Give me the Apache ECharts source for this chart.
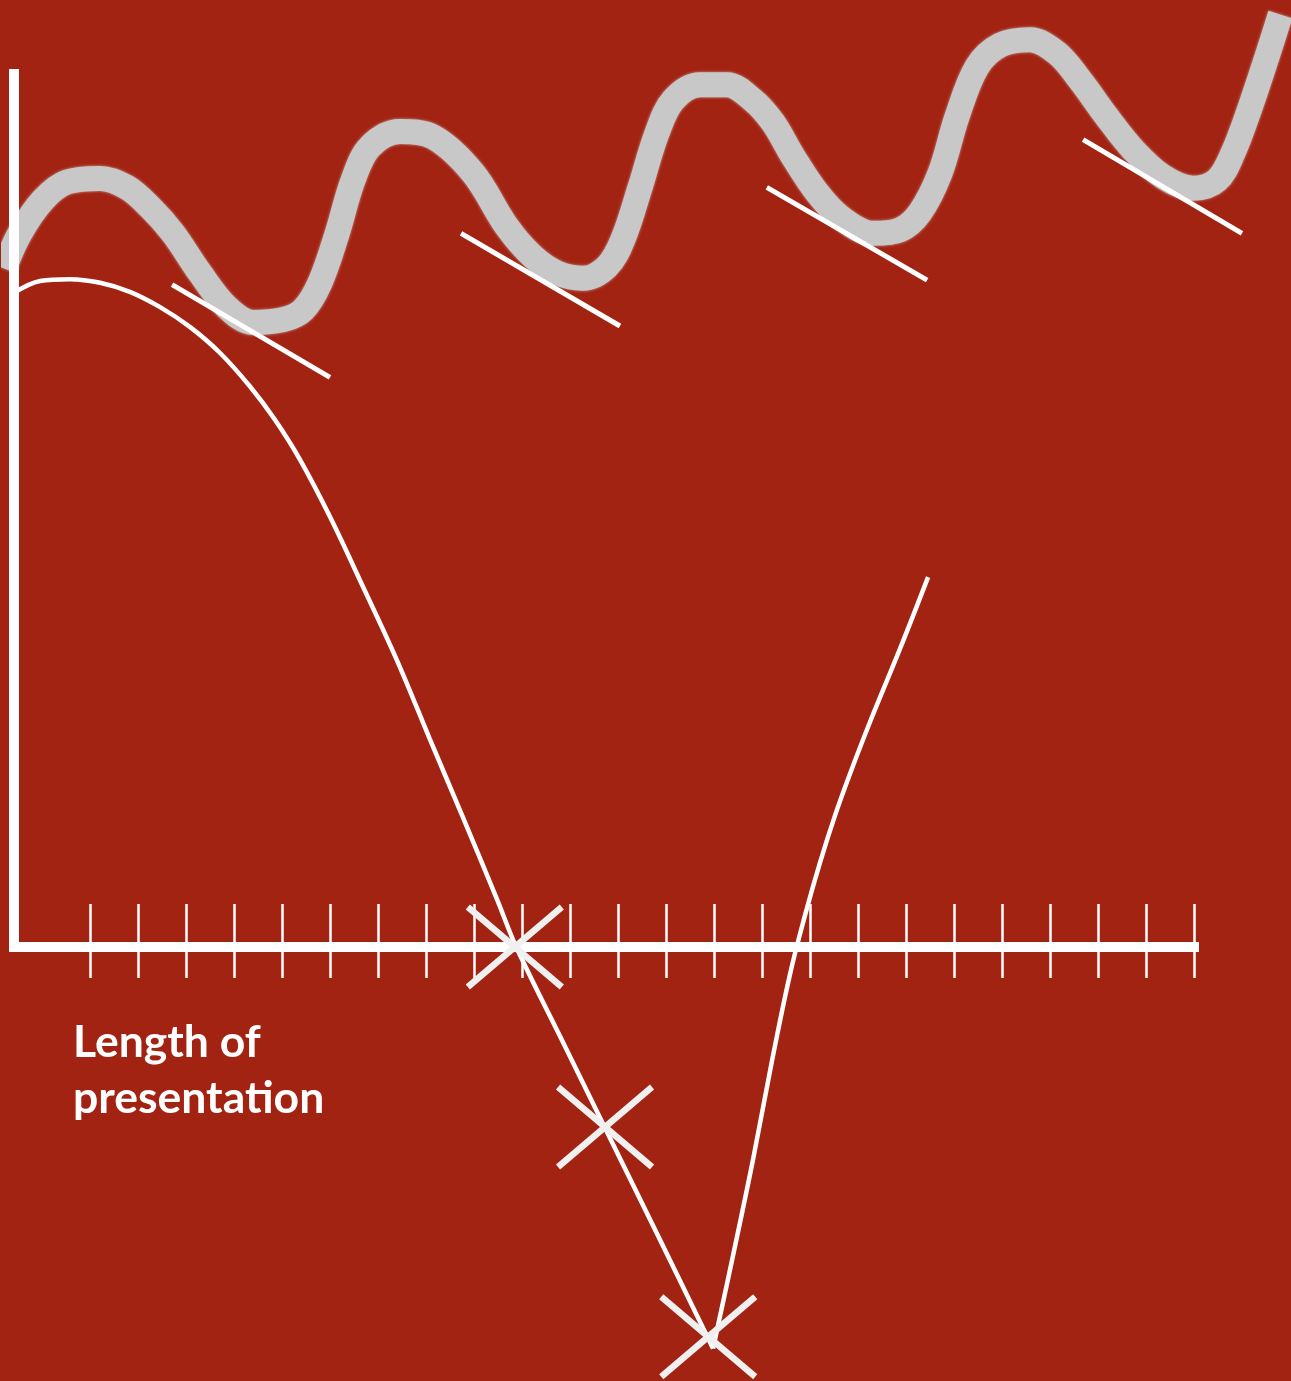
<!DOCTYPE html>
<html>
<head>
<meta charset="utf-8">
<script src="https://cdn.jsdelivr.net/npm/echarts@6/dist/echarts.min.js"></script>
<style>
  html, body { margin: 0; padding: 0; background: #a32312; }
  #chart { width: 1291px; height: 1381px; }
</style>
</head>
<body>
<div id="chart"></div>
<script>
// x: length of presentation (tick units), y: level (0 = axis)
const tickValues = [1, 2, 3, 4, 5, 6, 7, 8, 9, 10, 11, 12, 13, 14, 15, 16, 17, 18, 19, 20, 21, 22, 23, 24]

const interestWave = [
    [-0.79, 75.4], [-0.46, 79.3], [0.02, 83.0], [0.52, 85.0], [1.21, 85.4], [1.77, 84.4],
    [2.25, 82.2], [2.73, 79.3], [3.29, 74.9], [3.85, 71.1], [4.40, 69.4], [5.02, 69.7],
    [5.44, 70.8], [5.79, 73.8], [6.15, 79.3], [6.48, 85.2], [6.83, 88.9], [7.46, 90.6],
    [8.15, 90.0], [8.98, 86.0], [9.69, 80.0], [10.23, 76.7], [10.73, 74.9], [11.27, 74.3],
    [11.77, 75.6], [12.10, 78.6], [12.46, 84.4], [12.81, 90.4], [13.15, 94.1], [13.71, 95.8],
    [14.27, 95.8], [14.81, 94.1], [15.23, 91.6], [15.65, 87.8], [16.15, 83.8], [16.63, 81.1],
    [17.31, 79.3], [17.88, 79.7], [18.29, 81.6], [18.71, 86.0], [19.06, 92.2], [19.48, 97.8],
    [19.96, 100.2], [20.58, 100.8], [21.15, 99.3], [21.63, 96.3], [22.19, 92.2], [22.73, 88.6],
    [23.35, 85.6], [23.98, 84.3], [24.48, 85.2], [24.81, 88.2], [25.17, 93.3], [25.52, 98.9],
    [25.80, 103.6]
]

const attentionDrop = [
    [-0.58, 72.7], [-0.04, 74.0], [0.58, 74.2], [1.21, 73.8], [1.83, 72.8], [2.46, 71.1],
    [3.08, 68.9], [3.71, 66.0], [4.33, 62.3], [4.85, 58.6], [5.38, 54.1], [6.00, 47.8],
    [6.69, 40.0], [7.40, 31.8], [8.08, 23.1], [8.77, 14.4], [9.48, 5.3], [9.88, 0],
    [10.79, -9.9], [11.73, -20.1], [12.77, -31.4], [13.98, -44.6]
]

const attentionRecovery = [
    [13.98, -44.6], [14.40, -34.2], [14.81, -23.7], [15.21, -12.6], [15.58, -3.1], [15.90, 3.6],
    [16.21, 9.4], [16.52, 14.6], [16.83, 19.2], [17.25, 25.0], [17.88, 33.2], [18.46, 41.1]
]

const tangentSegments = [
    [[2.71, 73.6], [6.00, 63.3]],
    [[8.73, 79.3], [12.04, 69.0]],
    [[15.10, 84.4], [18.44, 74.1]],
    [[21.69, 89.7], [25.00, 79.3]]
]

const crossMarks = [[9.85, 0], [11.73, -20.0], [13.88, -43.3]]

const axisLabelText = 'Length of\npresentation'

const WHITE = '#ffffff'
const X_MIN = -7 / 12
const myChart = echarts.init(document.getElementById('chart'))

const tickAxis = (inside, length, showLine) => ({
    type: 'value',
    gridIndex: 0,
    min: X_MIN,
    max: 24,
    position: 'bottom',
    offset: 0,
    axisLine: {
        show: showLine,
        onZero: false,
        lineStyle: { color: WHITE, width: 10, cap: 'square' }
    },
    axisTick: {
        show: true,
        inside: inside,
        length: length,
        customValues: tickValues,
        lineStyle: { color: WHITE, width: 2.5 }
    },
    axisLabel: { show: false },
    splitLine: { show: false }
})

myChart.setOption({
    backgroundColor: '#a32312',
    animation: false,
    title: {
        text: axisLabelText,
        left: 73,
        top: 1015,
        padding: 0,
        textStyle: {
            color: WHITE,
            fontFamily: 'Lato',
            fontWeight: 'bold',
            fontSize: 44.5,
            lineHeight: 56
        }
    },
    grid: [
        { left: 14, right: 97, top: 74, bottom: 434 },
        // same scale, wider box so the wave can run to the right edge
        { left: 14, right: 0, top: 74, bottom: 434 }
    ],
    xAxis: [
        tickAxis(true, 43, true),
        tickAxis(false, 31, false),
        { type: 'value', gridIndex: 1, min: X_MIN, max: 1249 / 48, show: false }
    ],
    yAxis: [{
        type: 'value',
        gridIndex: 0,
        min: 0,
        max: 97,
        axisLine: {
            show: true,
            onZero: false,
            lineStyle: { color: WHITE, width: 10, cap: 'square' }
        },
        axisTick: { show: false },
        axisLabel: { show: false },
        splitLine: { show: false }
    }, {
        type: 'value',
        gridIndex: 1,
        min: 0,
        max: 97,
        show: false
    }],
    series: [{
        name: 'interest',
        type: 'line',
        xAxisIndex: 2,
        yAxisIndex: 1,
        z: -1,
        data: interestWave,
        smooth: 0.35,
        showSymbol: false,
        clip: false,
        lineStyle: {
            color: '#c8c8c8',
            width: 25,
            cap: 'butt',
            shadowColor: 'rgba(200,200,200,0.8)',
            shadowBlur: 3
        }
    }, {
        name: 'tangents',
        type: 'lines',
        coordinateSystem: 'cartesian2d',
        clip: false,
        z: 3,
        data: tangentSegments.map(s => ({ coords: s })),
        lineStyle: { color: WHITE, width: 5, opacity: 1 }
    }, {
        name: 'attention',
        type: 'line',
        data: attentionDrop,
        smooth: 0.35,
        showSymbol: false,
        clip: false,
        lineStyle: { color: WHITE, width: 4.5 }
    }, {
        name: 'recovery',
        type: 'line',
        data: attentionRecovery,
        smooth: 0.4,
        showSymbol: false,
        clip: false,
        lineStyle: { color: WHITE, width: 4.5 }
    }, {
        name: 'marks',
        type: 'custom',
        data: crossMarks,
        z: 4,
        renderItem: (params, api) => {
            const c = api.coord([api.value(0), api.value(1)])
            const w = 47, h = 40
            const style = { stroke: '#f0f0f0', lineWidth: 6.5 }
            return {
                type: 'group',
                children: [
                    { type: 'line', shape: { x1: c[0] - w, y1: c[1] - h, x2: c[0] + w, y2: c[1] + h }, style },
                    { type: 'line', shape: { x1: c[0] - w, y1: c[1] + h, x2: c[0] + w, y2: c[1] - h }, style }
                ]
            }
        }
    }]
})
</script>
</body>
</html>
